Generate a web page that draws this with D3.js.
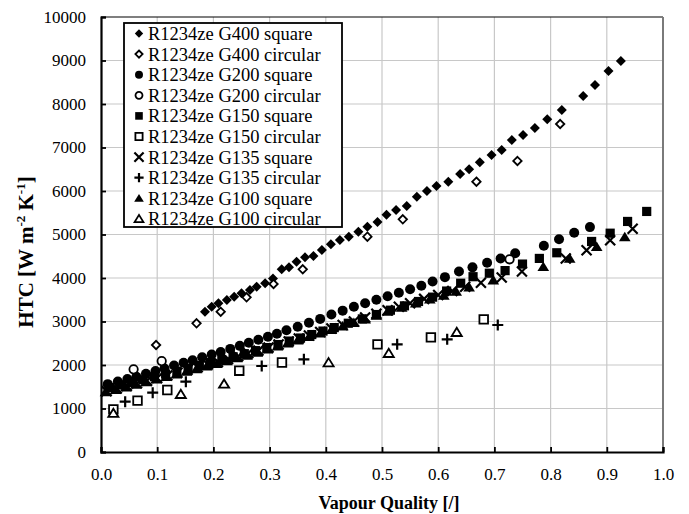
<!DOCTYPE html>
<html><head><meta charset="utf-8">
<script src="https://cdn.jsdelivr.net/npm/d3@7"></script>
<style>body{margin:0;background:#fff}svg{display:block}</style>
</head><body>
<script>
// ---- data ----
const xTicks = [0,0.1,0.2,0.3,0.4,0.5,0.6,0.7,0.8,0.9,1.0];
const yTicks = [0,1000,2000,3000,4000,5000,6000,7000,8000,9000,10000];

const g400sqX = [0.185,0.197,0.209,0.224,0.237,0.250,0.265,0.277,0.292,0.306,0.3215,0.3345,0.348,0.363,0.378,0.393,0.409,0.425,0.441,0.458,0.474,0.492,0.508,0.525,0.544,0.562,0.580,0.597,0.618,0.639,0.655,0.674,0.695,0.713,0.731,0.751,0.772,0.794,0.820,0.858,0.879,0.903,0.925];
const g400sqY = [3225,3340,3418,3494,3571,3648,3724,3800,3878,3990,4200,4246,4375,4475,4506,4644,4775,4874,4950,5065,5180,5287,5456,5563,5655,5869,6000,6115,6214,6391,6499,6659,6828,6943,7170,7290,7450,7650,7862,8184,8437,8759,8989];

const g400ciX = [0.098,0.170,0.213,0.259,0.307,0.359,0.474,0.537,0.668,0.741,0.817];
const g400ciY = [2460,2958,3225,3556,3862,4200,4950,5349,6214,6690,7540];

const g200sqX = [0.012,0.03,0.047,0.063,0.08,0.097,0.113,0.13,0.147,0.163,0.18,0.197,0.213,0.23,0.247,0.263,0.28,0.297,0.313,0.33,0.35,0.37,0.39,0.41,0.43,0.45,0.47,0.49,0.51,0.53,0.55,0.57,0.59,0.612,0.637,0.661,0.687,0.711,0.737,0.788,0.815,0.842,0.870];
const g200sqY = [1560,1620,1680,1730,1800,1860,1920,1990,2050,2110,2180,2240,2300,2370,2440,2510,2580,2650,2720,2800,2880,2970,3060,3160,3250,3340,3420,3500,3580,3660,3740,3820,3920,4020,4150,4245,4350,4450,4570,4740,4890,5040,5170];

const g200ciX = [0.058,0.108,0.727];
const g200ciY = [1900,2090,4430];

const g150sqX = [0.015,0.035,0.055,0.075,0.095,0.115,0.135,0.155,0.175,0.195,0.215,0.235,0.255,0.275,0.295,0.315,0.335,0.355,0.375,0.395,0.415,0.44,0.465,0.49,0.515,0.54,0.565,0.59,0.615,0.64,0.662,0.691,0.719,0.75,0.78,0.811,0.873,0.906,0.937,0.971];
const g150sqY = [1480,1540,1600,1660,1730,1790,1860,1920,1990,2060,2120,2190,2260,2330,2400,2470,2550,2620,2700,2780,2860,2960,3060,3160,3260,3360,3460,3560,3700,3880,4030,4110,4170,4320,4450,4580,4840,5030,5300,5530];

const g150ciX = [0.022,0.065,0.118,0.246,0.322,0.492,0.587,0.681];
const g150ciY = [981,1180,1425,1869,2057,2475,2636,3050];

const g135sqX = [0.01,0.028,0.046,0.064,0.082,0.1,0.118,0.136,0.154,0.172,0.19,0.208,0.226,0.244,0.262,0.28,0.298,0.316,0.334,0.352,0.37,0.39,0.41,0.43,0.45,0.47,0.49,0.51,0.53,0.55,0.575,0.6,0.625,0.648,0.676,0.713,0.749,0.827,0.864,0.906,0.946];
const g135sqY = [1400,1460,1520,1580,1640,1700,1760,1820,1890,1950,2010,2070,2140,2200,2270,2330,2400,2470,2540,2610,2680,2760,2840,2920,3000,3090,3180,3260,3340,3420,3520,3610,3700,3800,3890,4010,4150,4450,4640,4870,5130];

const g135ciX = [0.043,0.092,0.151,0.286,0.361,0.527,0.616,0.706];
const g135ciY = [1157,1364,1617,1977,2130,2475,2590,2920];

const g100sqX = [0.008,0.026,0.044,0.062,0.08,0.098,0.116,0.134,0.152,0.17,0.188,0.206,0.224,0.242,0.26,0.278,0.296,0.314,0.332,0.35,0.37,0.39,0.41,0.43,0.45,0.47,0.49,0.51,0.535,0.56,0.585,0.61,0.632,0.655,0.698,0.787,0.834,0.882,0.932];
const g100sqY = [1380,1430,1490,1550,1610,1670,1730,1790,1850,1910,1970,2030,2090,2160,2220,2290,2360,2430,2500,2570,2650,2730,2810,2890,2970,3050,3140,3230,3320,3420,3510,3600,3690,3790,3950,4260,4450,4720,4940];

const g100ciX = [0.022,0.142,0.219,0.405,0.512,0.633];
const g100ciY = [890,1326,1563,2053,2268,2751];

const seriesNames = ["R1234ze G400 square","R1234ze G400 circular","R1234ze G200 square","R1234ze G200 circular","R1234ze G150 square","R1234ze G150 circular","R1234ze G135 square","R1234ze G135 circular","R1234ze G100 square","R1234ze G100 circular"];
const seriesX = [g400sqX,g400ciX,g200sqX,g200ciX,g150sqX,g150ciX,g135sqX,g135ciX,g100sqX,g100ciX];
const seriesY = [g400sqY,g400ciY,g200sqY,g200ciY,g150sqY,g150ciY,g135sqY,g135ciY,g100sqY,g100ciY];
const seriesShape = ["diamond","diamond","circle","circle","square","square","times","plus","triangle","triangle"];
const seriesFilled = [true,false,true,false,true,false,false,false,true,false];

// ---- drawing ----
const W = 689, H = 514;
const M = {left:101, right:663, top:17, bottom:452};
const FONT = "'Liberation Serif','Times New Roman',serif";

const x = d3.scaleLinear().domain([0,1]).range([M.left, M.right]);
const y = d3.scaleLinear().domain([0,10000]).range([M.bottom, M.top]);

const svg = d3.select("body").append("svg").attr("width", W).attr("height", H);

const shapes = {
  diamond: r => `M0,${-r}L${r},0L0,${r}L${-r},0Z`,
  circle: r => `M${r},0A${r},${r} 0 1,1 ${-r},0A${r},${r} 0 1,1 ${r},0Z`,
  square: r => `M${-r},${-r}H${r}V${r}H${-r}Z`,
  times: r => `M${-r},${-r}L${r},${r}M${-r},${r}L${r},${-r}`,
  plus: r => `M${-r},0H${r}M0,${-r}V${r}`,
  triangle: r => `M0,${-r}L${r*1.1},${r*0.8}L${-r*1.1},${r*0.8}Z`
};
const plotSize = {diamond:[5,4.2], circle:[5,4.2], square:[4.6,4.3], times:[5,0], plus:[5.5,0], triangle:[5.3,4.6]};
const legSize = {diamond:[4.2,3.6], circle:[4,3.5], square:[3.8,3.6], times:[4.6,0], plus:[4.6,0], triangle:[4.4,4]};

function styleMarker(sel, shape, filled, sizes) {
  const r = filled ? sizes[shape][0] : (sizes[shape][1] || sizes[shape][0]);
  sel.attr("d", shapes[shape](r));
  if (shape === "times" || shape === "plus") {
    sel.attr("fill", "none").attr("stroke", "#000").attr("stroke-width", 2.2);
  } else if (filled) {
    sel.attr("fill", "#000").attr("stroke", "none");
  } else {
    sel.attr("fill", "#fff").attr("stroke", "#000").attr("stroke-width", 1.8);
  }
}

// grid
const grid = svg.append("g");
grid.selectAll("line.gx").data(xTicks.slice(1, -1)).join("line")
  .attr("x1", d => x(d)).attr("x2", d => x(d)).attr("y1", M.top).attr("y2", M.bottom)
  .attr("stroke", "#c8c8c8").attr("stroke-width", 1.2);
grid.selectAll("line.gy").data(yTicks.slice(1, -1)).join("line")
  .attr("y1", d => y(d)).attr("y2", d => y(d)).attr("x1", M.left).attr("x2", M.right)
  .attr("stroke", "#c8c8c8").attr("stroke-width", 1.2);

// frame top/right
svg.append("line").attr("x1", M.left).attr("x2", M.right).attr("y1", M.top).attr("y2", M.top)
  .attr("stroke", "#000").attr("stroke-width", 1.2);
svg.append("line").attr("x1", M.right).attr("x2", M.right).attr("y1", M.top).attr("y2", M.bottom)
  .attr("stroke", "#7a7a7a").attr("stroke-width", 2);

// data
seriesNames.forEach((name, i) => {
  const pts = seriesX[i].map((v, j) => [v, seriesY[i][j]]);
  svg.append("g").selectAll("path").data(pts).join("path")
    .attr("transform", d => `translate(${x(d[0])},${y(d[1])})`)
    .call(s => styleMarker(s, seriesShape[i], seriesFilled[i], plotSize));
});

// axes
const xAxis = d3.axisBottom(x).tickValues(xTicks).tickFormat(d3.format(".1f"))
  .tickSize(-5).tickPadding(16);
const yAxis = d3.axisLeft(y).tickValues(yTicks).tickFormat(d3.format("d"))
  .tickSize(-5).tickPadding(15);

const gx = svg.append("g").attr("transform", `translate(0,${M.bottom})`).call(xAxis);
const gy = svg.append("g").attr("transform", `translate(${M.left},0)`).call(yAxis);
[gx, gy].forEach(g => {
  g.select(".domain").attr("stroke", "#000").attr("stroke-width", 2.2);
  g.selectAll(".tick line").attr("stroke", "#000").attr("stroke-width", 1.8);
  g.selectAll(".tick text").attr("font-family", FONT).attr("font-size", 17).attr("fill", "#000");
});

// axis titles
svg.append("text").attr("x", 389).attr("y", 509).attr("text-anchor", "middle")
  .attr("font-family", FONT).attr("font-weight", "bold").attr("font-size", 18)
  .text("Vapour Quality [/]");

const yt = svg.append("text").attr("transform", "translate(33,252) rotate(-90)")
  .attr("text-anchor", "middle").attr("font-family", FONT).attr("font-weight", "bold").attr("font-size", 21);
yt.append("tspan").text("HTC [W m");
yt.append("tspan").attr("font-size", 13).attr("dy", -8).text("-2");
yt.append("tspan").attr("dy", 8).text(" K");
yt.append("tspan").attr("font-size", 13).attr("dy", -8).text("-1");
yt.append("tspan").attr("dy", 8).text("]");

// legend
const lg = svg.append("g");
lg.append("rect").attr("x", 124).attr("y", 23).attr("width", 218).attr("height", 204)
  .attr("fill", "#fff").attr("stroke", "#000").attr("stroke-width", 1.8);
seriesNames.forEach((name, i) => {
  const cy = 33.5 + i * 20.6;
  lg.append("path").attr("transform", `translate(139,${cy})`)
    .call(s => styleMarker(s, seriesShape[i], seriesFilled[i], legSize));
  lg.append("text").attr("x", 148).attr("y", cy).attr("dy", "0.35em")
    .attr("font-family", FONT).attr("font-size", 18.5).text(name);
});
</script>
</body></html>
